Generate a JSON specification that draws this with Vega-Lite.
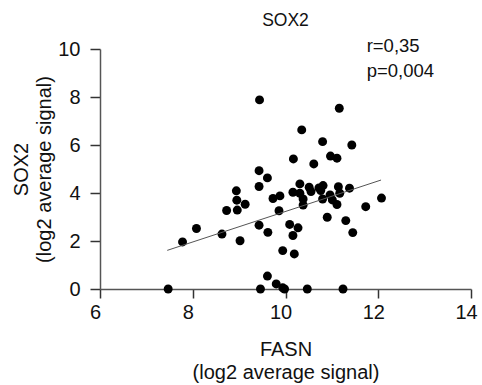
{
  "$schema": "https://vega.github.io/schema/vega-lite/v6.json",
  "autosize": {"type": "none"},
  "width": 371,
  "height": 240,
  "padding": {"left": 100, "top": 49, "right": 11, "bottom": 96},
  "background": "white",
  "config": {
    "font": "Liberation Sans",
    "view": {"stroke": null},
    "axis": {"grid": false, "labelColor": "#111", "titleColor": "#111", "titleFontWeight": "normal", "domainColor": "#555", "domainWidth": 1.5, "tickColor": "#333", "tickWidth": 1.5, "labelFontSize": 20, "titleFontSize": 20, "titleLineHeight": 23},
    "title": {"fontWeight": "normal", "fontSize": 17.5, "color": "#111"}
  },
  "title": {"text": "SOX2", "offset": 8},
  "datasets": {
    "pts": [
      {"FASN": 9.44, "SOX2": 7.88}, {"FASN": 11.16, "SOX2": 7.53}, {"FASN": 10.35, "SOX2": 6.63},
      {"FASN": 10.80, "SOX2": 6.14}, {"FASN": 11.43, "SOX2": 6.00}, {"FASN": 10.97, "SOX2": 5.54},
      {"FASN": 11.11, "SOX2": 5.45}, {"FASN": 10.17, "SOX2": 5.42}, {"FASN": 10.61, "SOX2": 5.21},
      {"FASN": 9.43, "SOX2": 4.93}, {"FASN": 9.61, "SOX2": 4.63}, {"FASN": 9.43, "SOX2": 4.27},
      {"FASN": 8.94, "SOX2": 4.09}, {"FASN": 8.95, "SOX2": 3.70}, {"FASN": 9.13, "SOX2": 3.53},
      {"FASN": 8.96, "SOX2": 3.29}, {"FASN": 8.73, "SOX2": 3.27}, {"FASN": 9.73, "SOX2": 3.77},
      {"FASN": 9.88, "SOX2": 3.88}, {"FASN": 9.86, "SOX2": 3.26}, {"FASN": 8.08, "SOX2": 2.52},
      {"FASN": 9.43, "SOX2": 2.66}, {"FASN": 8.63, "SOX2": 2.29}, {"FASN": 9.62, "SOX2": 2.36},
      {"FASN": 7.78, "SOX2": 1.96}, {"FASN": 9.02, "SOX2": 2.01}, {"FASN": 9.94, "SOX2": 1.60},
      {"FASN": 10.19, "SOX2": 1.46}, {"FASN": 9.61, "SOX2": 0.54}, {"FASN": 9.80, "SOX2": 0.21},
      {"FASN": 9.94, "SOX2": 0.05}, {"FASN": 7.47, "SOX2": 0.0}, {"FASN": 9.46, "SOX2": 0.0},
      {"FASN": 10.47, "SOX2": 0.0}, {"FASN": 11.24, "SOX2": 0.0}, {"FASN": 9.98, "SOX2": 0.0},
      {"FASN": 10.31, "SOX2": 4.38}, {"FASN": 10.51, "SOX2": 4.24}, {"FASN": 10.72, "SOX2": 4.21},
      {"FASN": 10.81, "SOX2": 4.31}, {"FASN": 11.14, "SOX2": 4.26}, {"FASN": 11.38, "SOX2": 4.20},
      {"FASN": 10.16, "SOX2": 4.03}, {"FASN": 10.31, "SOX2": 3.99}, {"FASN": 10.55, "SOX2": 4.06},
      {"FASN": 10.76, "SOX2": 4.10}, {"FASN": 10.38, "SOX2": 3.75}, {"FASN": 10.96, "SOX2": 3.92},
      {"FASN": 11.17, "SOX2": 3.99}, {"FASN": 10.80, "SOX2": 3.75}, {"FASN": 11.01, "SOX2": 3.71},
      {"FASN": 11.11, "SOX2": 3.52}, {"FASN": 10.38, "SOX2": 3.50}, {"FASN": 12.07, "SOX2": 3.79},
      {"FASN": 11.73, "SOX2": 3.43}, {"FASN": 10.90, "SOX2": 2.99}, {"FASN": 11.30, "SOX2": 2.85},
      {"FASN": 10.09, "SOX2": 2.69}, {"FASN": 10.27, "SOX2": 2.55}, {"FASN": 11.45, "SOX2": 2.35},
      {"FASN": 10.16, "SOX2": 2.23}
    ],
    "fit": [{"FASN": 7.45, "SOX2": 1.61}, {"FASN": 12.06, "SOX2": 4.54}],
    "notes": [{"FASN": 11.75, "SOX2": 10.12, "label": "r=0,35"}, {"FASN": 11.75, "SOX2": 9.08, "label": "p=0,004"}]
  },
  "layer": [
    {
      "data": {"name": "pts"},
      "mark": {"type": "circle", "size": 80, "color": "black", "opacity": 1},
      "encoding": {
        "x": {"field": "FASN", "type": "quantitative", "scale": {"domain": [6, 14], "nice": false, "zero": false},
              "axis": {"values": [6, 8, 10, 12, 14], "tickSize": 9, "labelPadding": 4, "labelOffset": -5, "labelFlush": false, "title": ["FASN", "(log2 average signal)"], "titlePadding": 17,
                       "encode": {"labels": {"update": {"dy": {"signal": "datum.value === 12 ? -6 : 0"}}}}}},
        "y": {"field": "SOX2", "type": "quantitative", "scale": {"domain": [0, 10], "nice": false},
              "axis": {"values": [0, 2, 4, 6, 8, 10], "tickSize": 10, "labelPadding": 10, "title": ["SOX2", "(log2 average signal)"], "titlePadding": 3}}
      }
    },
    {
      "data": {"name": "fit"},
      "mark": {"type": "line", "color": "#555", "strokeWidth": 1},
      "encoding": {
        "x": {"field": "FASN", "type": "quantitative"},
        "y": {"field": "SOX2", "type": "quantitative"}
      }
    },
    {
      "data": {"name": "notes"},
      "mark": {"type": "text", "align": "left", "baseline": "middle", "fontSize": 18.5, "color": "#111"},
      "encoding": {
        "x": {"field": "FASN", "type": "quantitative"},
        "y": {"field": "SOX2", "type": "quantitative"},
        "text": {"field": "label"}
      }
    }
  ]
}
